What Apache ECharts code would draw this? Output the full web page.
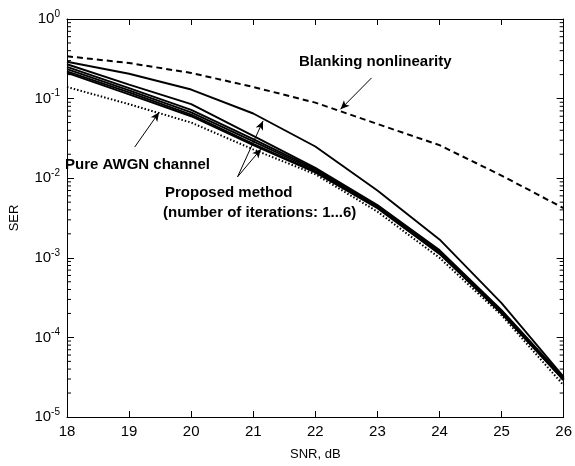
<!DOCTYPE html>
<html>
<head>
<meta charset="utf-8">
<script src="https://cdn.jsdelivr.net/npm/echarts@6/dist/echarts.min.js"></script>
<style>
html, body { margin: 0; padding: 0; background: #fff; }
#chart { width: 575px; height: 466px; }
</style>
</head>
<body>
<div id="chart"></div>
<script>
let snr = [18, 19, 20, 21, 22, 23, 24, 25, 26];
let blanking = [0.34, 0.28, 0.21, 0.14, 0.089, 0.048, 0.026, 0.0108, 0.0042];
let iter1 = [0.29, 0.205, 0.13, 0.065, 0.025, 0.0070, 0.0017, 0.00027, 3.2e-5];
let iter2 = [0.27, 0.15, 0.085, 0.034, 0.0135, 0.0046, 0.00125, 0.00022, 3.1e-5];
let iter3 = [0.25, 0.135, 0.072, 0.031, 0.013, 0.0045, 0.0012, 0.00021, 3.0e-5];
let iter4 = [0.235, 0.127, 0.067, 0.029, 0.0125, 0.0044, 0.00118, 0.00021, 3.0e-5];
let iter5 = [0.22, 0.12, 0.063, 0.027, 0.012, 0.0043, 0.00115, 0.0002, 2.9e-5];
let iter6 = [0.21, 0.113, 0.06, 0.026, 0.0118, 0.0042, 0.00112, 0.0002, 2.9e-5];
let awgn = [0.14, 0.085, 0.05, 0.023, 0.0112, 0.0038, 0.001, 0.00019, 2.5e-5];

// minor ticks 2..9 per decade (log axis only draws the decades)
let minorTicks = [];
for (let d = -5; d < 0; d++) {
    for (let m = 2; m <= 9; m++) {
        minorTicks.push([18, m * Math.pow(10, d)]);
    }
}

let font = 'Liberation Sans, Arial, sans-serif';
let chart = echarts.init(document.getElementById('chart'));

function pairs(ys) {
    return snr.map(function (x, i) { return [x, ys[i]]; });
}

function curve(name, ys, type) {
    return {
        name: name,
        type: 'line',
        data: pairs(ys),
        symbol: 'none',
        silent: true,
        lineStyle: { color: '#000', width: type === 'solid' ? 1.9 : 2, type: type }
    };
}

function minorTickSeries(side) {
    return {
        type: 'custom',
        silent: true,
        clip: false,
        data: minorTicks,
        renderItem: function (params, api) {
            let p = api.coord([api.value(0), api.value(1)]);
            let cs = params.coordSys;
            let x = side === 'left' ? cs.x : cs.x + cs.width - 4;
            return {
                type: 'line',
                shape: { x1: x, y1: p[1], x2: x + 4, y2: p[1] },
                style: { stroke: '#000', lineWidth: 1 }
            };
        }
    };
}

let series = [
    curve('blanking', blanking, [6, 4]),
    curve('iter1', iter1, 'solid'),
    curve('iter2', iter2, 'solid'),
    curve('iter3', iter3, 'solid'),
    curve('iter4', iter4, 'solid'),
    curve('iter5', iter5, 'solid'),
    curve('iter6', iter6, 'solid'),
    curve('awgn', awgn, [1.5, 2]),
    minorTickSeries('left'),
    minorTickSeries('right'),
    {
        // annotation arrows, placed in data coordinates
        type: 'line',
        data: [],
        silent: true,
        markLine: {
            silent: true,
            symbol: ['none', 'arrow'],
            symbolSize: [6, 9],
            lineStyle: { color: '#000', width: 1, type: 'solid' },
            label: { show: false },
            animation: false,
            data: [
                [{ coord: [22.906, 0.182] }, { coord: [22.405, 0.0733] }],
                [{ coord: [19.09, 0.0246] }, { coord: [19.484, 0.0673] }],
                [{ coord: [20.747, 0.0104] }, { coord: [21.158, 0.0524] }],
                [{ coord: [20.747, 0.0104] }, { coord: [21.126, 0.0233] }]
            ]
        }
    }
];

function annot(text, x, y) {
    return {
        type: 'text',
        x: x,
        y: y,
        silent: true,
        style: {
            text: text,
            fill: '#000',
            font: 'bold 15px ' + font,
            textAlign: 'left',
            textVerticalAlign: 'middle',
            align: 'left',
            verticalAlign: 'middle'
        }
    };
}

let tickStyle = { color: '#000', width: 1 };

let option = {
    animation: false,
    backgroundColor: '#fff',
    grid: { left: 61, right: 7, top: 19, bottom: 46 },
    xAxis: [
        {
            type: 'value',
            min: 18,
            max: 26,
            interval: 1,
            name: 'SNR, dB',
            nameLocation: 'middle',
            nameGap: 31,
            nameTextStyle: { color: '#000', fontSize: 13, fontFamily: font },
            axisLine: { show: true, lineStyle: { color: '#000', width: 1 } },
            axisTick: { show: true, inside: true, length: 6, lineStyle: tickStyle },
            axisLabel: { color: '#000', fontSize: 15, fontFamily: font, margin: 7 },
            splitLine: { show: false }
        },
        {
            type: 'value',
            position: 'top',
            min: 18,
            max: 26,
            interval: 1,
            axisLine: { show: true, lineStyle: { color: '#000', width: 1 } },
            axisTick: { show: true, inside: true, length: 6, lineStyle: tickStyle },
            axisLabel: { show: false },
            splitLine: { show: false }
        }
    ],
    yAxis: [
        {
            type: 'log',
            logBase: 10,
            min: 1e-5,
            max: 1,
            name: 'SER',
            nameLocation: 'middle',
            nameGap: 46,
            nameTextStyle: { color: '#000', fontSize: 13, fontFamily: font },
            axisLine: { show: true, lineStyle: { color: '#000', width: 1 } },
            axisTick: { show: true, inside: true, length: 7, lineStyle: tickStyle },
            axisLabel: {
                margin: 7,
                formatter: function (v) {
                    return '{b|10}{s|' + Math.round(Math.log10(v)) + '}';
                },
                rich: {
                    b: { fontSize: 15, fontFamily: font, color: '#000' },
                    s: { fontSize: 10, fontFamily: font, color: '#000', padding: [0, 0, 10, 0] }
                }
            },
            splitLine: { show: false }
        },
        {
            type: 'log',
            logBase: 10,
            min: 1e-5,
            max: 1,
            position: 'right',
            axisLine: { show: true, lineStyle: { color: '#000', width: 1 } },
            axisTick: { show: true, inside: true, length: 7, lineStyle: tickStyle },
            axisLabel: { show: false },
            splitLine: { show: false }
        }
    ],
    series: series,
    graphic: [
        annot('Blanking nonlinearity', 299, 62),
        annot('Pure AWGN channel', 65, 165),
        annot('Proposed method', 165, 193),
        annot('(number of iterations: 1...6)', 163, 213)
    ]
};

chart.setOption(option);
</script>
</body>
</html>
